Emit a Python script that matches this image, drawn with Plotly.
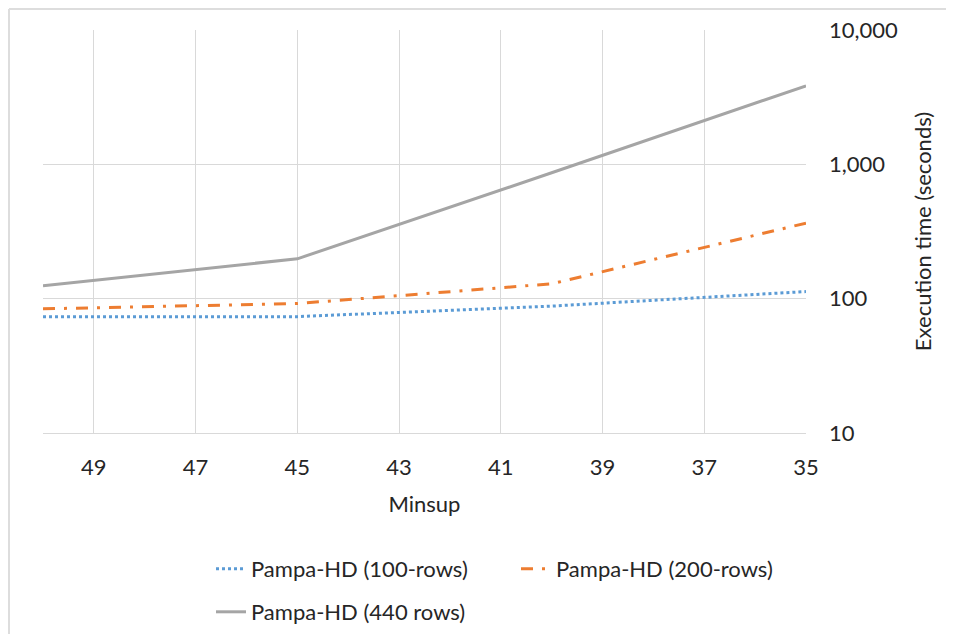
import plotly.graph_objects as go

minsup = [50, 45, 40, 35]
rows100 = [73.5, 73.5, 88, 113]
rows200 = [84, 92, 129, 365]
rows440 = [125, 198, 865, 3840]

series = [
    ("Pampa-HD (100-rows)", rows100, "#5B9BD5", "dot", "legend"),
    ("Pampa-HD (200-rows)", rows200, "#ED7D31", "12px,9px,3px,9px", "legend"),
    ("Pampa-HD (440 rows)", rows440, "#A5A5A5", "solid", "legend2"),
]

fig = go.Figure()
for name, vals, color, dash, leg in series:
    fig.add_trace(go.Scatter(x=minsup, y=vals, name=name, mode="lines", legend=leg,
                             line=dict(color=color, width=3, dash=dash)))

# page offset of the figure (default body margin of 8px)
OFF = 8
W, H = 954 - 2 * OFF, 642 - 2 * OFF
L, T = 43 - OFF, 30 - OFF
pw, ph = 763, 403
R, B = W - L - pw, H - T - ph

def py(page_y):
    return (433 - page_y) / ph

def px(page_x):
    return (page_x - 43) / pw

txt = "#262626"
FS = 22
fig.update_layout(
    width=W, height=H,
    margin=dict(l=L, r=R, t=T, b=B, autoexpand=False),
    plot_bgcolor="white", paper_bgcolor="white",
    font=dict(family="Lato, Open Sans, sans-serif", size=FS, color=txt),
    xaxis=dict(range=[50, 35], tickmode="array", tickvals=[49, 47, 45, 43, 41, 39, 37, 35],
               showgrid=True, gridcolor="#D9D9D9", gridwidth=1,
               showline=True, linecolor="#D9D9D9", linewidth=1,
               zeroline=False, ticks="", ticklabelstandoff=15,
               tickfont=dict(size=FS),
               title=dict(text="Minsup", standoff=17, font=dict(size=FS))),
    yaxis=dict(type="log", range=[1, 4], side="right",
               tickvals=[10, 100, 1000, 10000], ticktext=["10", "100", "1,000", "10,000"],
               showgrid=True, gridcolor="#D9D9D9", gridwidth=1,
               showline=False, zeroline=False, ticks="", ticklabelstandoff=22,
               tickfont=dict(size=FS),
               title=dict(text="Execution time (seconds)", standoff=18, font=dict(size=FS))),
    legend=dict(orientation="h", x=px(211), xanchor="left",
                y=py(548), yanchor="top",
                entrywidth=260, entrywidthmode="pixels",
                font=dict(size=FS, color=txt)),
    legend2=dict(orientation="h", x=px(211), xanchor="left",
                 y=py(591), yanchor="top",
                 font=dict(size=FS, color=txt)),
    showlegend=True,
)

# light border at top and left of the picture
fig.add_shape(type="line", xref="paper", yref="paper",
              x0=px(OFF + 1), x1=px(954), y0=py(OFF + 1), y1=py(OFF + 1),
              line=dict(color="#DDDDDD", width=2))
fig.add_shape(type="line", xref="paper", yref="paper",
              x0=px(OFF + 1), x1=px(OFF + 1), y0=py(OFF + 1), y1=py(642),
              line=dict(color="#DDDDDD", width=2))

fig.write_html("out.html")
